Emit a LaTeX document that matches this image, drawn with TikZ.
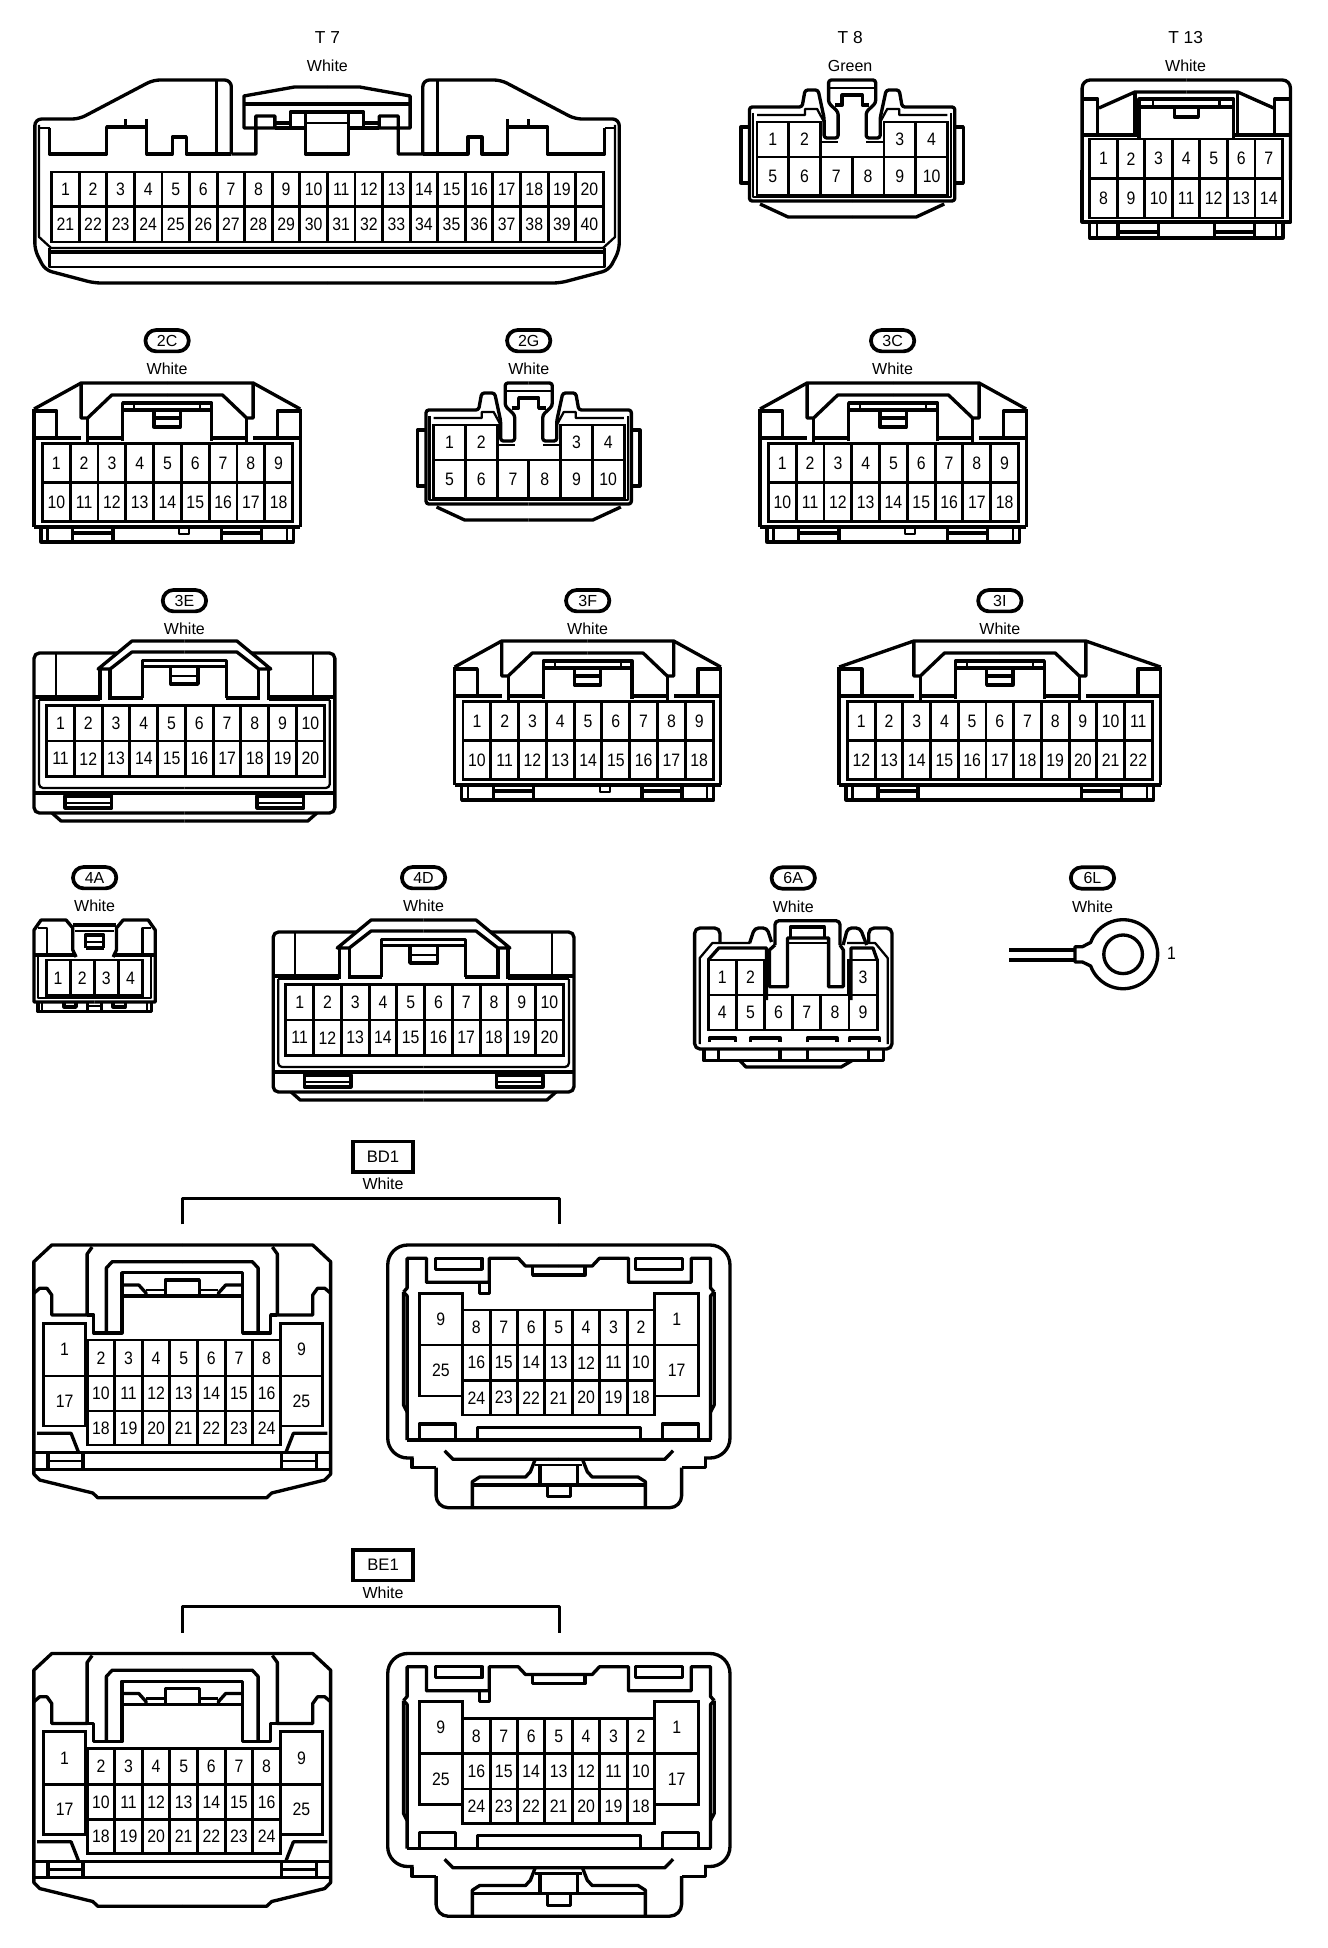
\documentclass[tikz,border=0pt]{standalone}
\usepackage{fontspec}
\setmainfont{Liberation Sans}
\newfontfamily\pinfont[FakeStretch=.88]{Liberation Sans}
\tikzset{
	hull/.style={line width=2.5pt,line join=round},
	lite/.style={line width=1.7pt,line join=round},
	pincell/.style={draw,line width=2.2pt,inner sep=0pt,outer sep=0pt,font=\pinfont\fontsize{13.5}{13.5}\selectfont},
	tint/.style={inner sep=0pt,font=\fontsize{12}{12}\selectfont},
	plaintag/.style={inner sep=0pt,font=\fontsize{13}{13}\selectfont},
	pilltag/.style={draw,line width=2.8pt,rounded corners=8pt,minimum width=32.5pt,minimum height=16pt,inner sep=0pt,font=\fontsize{12}{12}\selectfont},
	boxtag/.style={draw,line width=2.5pt,minimum width=45pt,minimum height=23pt,inner sep=0pt,font=\fontsize{12.5}{12.5}\selectfont},
}
\newcommand{\bothsides}[2]{#2\begin{scope}[shift={(#1,0)},xscale=-1]#2\end{scope}}
\newcommand{\pinrow}[6]{%
	\foreach \p [count=\i from 0] in {#6}{
		\node[pincell,minimum width=#4*.751pt,minimum height=#5*.75pt] (#1-\p) at ({#2+\i*#4+#4/2},{#3+#5/2}) {\p};
	}
}
\newcommand{\pilled}[5]{%
	\node[pilltag] (#1) at (#2,#3) {#4};
	\node[tint] (#1-tint) at ({#2},{#3+28.5}) {#5};
}
\newcommand{\clipplug}[1]{%
	\bothsides{1700}{
		\draw[hull,rounded corners=2pt] (850,201) -- (747.5,201) -- (747.5,107) -- (800,107) -- (803,90) -- (816,90) -- (822,118) -- (822,138) -- (836,138) -- (836,112) -- (826.5,103) -- (826.5,80) -- (850,80);
		\draw[hull] (758,204) -- (786,217) -- (850,217);
		\draw[hull] (747.5,127) -- (739,127) -- (739,183) -- (747.5,183);
		\draw[lite] (751,113) -- (751,197) -- (850,197);
		\draw[lite] (755,115) -- (803,115) -- (803,109) -- (815,109) -- (822,122);
		\draw[lite] (826.5,88) -- (850,88);
		\draw[hull] (833,105) -- (840,105) -- (840,95) -- (850,95);
		\draw[lite] (819,142) -- (836,142);
	}
	\pinrow{#1}{755}{122}{31.7}{35}{1,2}
	\pinrow{#1}{881.8}{122}{31.7}{35}{3,4}
	\pinrow{#1}{755}{157}{31.7}{38}{5,...,10}
}
\newcommand{\cside}{%
	\draw[hull] (33,409) -- (33,527);
	\draw[hull] (33,411) -- (55.7,411) -- (55.7,438);
	\draw[hull] (33,438) -- (80,438);
	\draw[hull] (33,527) -- (165.9,527);
	\draw[hull] (40,527) -- (40,542) -- (165.9,542);
	\draw[lite] (46.4,527) -- (46.4,542);
	\draw[hull] (71.7,527) -- (71.7,542);
	\draw[hull] (111.8,527) -- (111.8,542);
	\draw[hull] (71.7,533) -- (111.8,533);
}
\newcommand{\cbox}{%
	\draw[hull] (80,383) -- (80,418) -- (86.5,418) -- (110.6,395) -- (165.9,395);
	\draw[hull] (86.5,418) -- (86.5,443);
	\draw[hull] (86.5,438) -- (121.5,438);
	\draw[hull] (121.5,441) -- (121.5,403) -- (165.9,403);
	\draw[hull] (121.5,410) -- (165.9,410);
	\draw[lite] (133,403) -- (133,410);
	\draw[hull] (152.8,410) -- (152.8,427) -- (165.9,427);
	\draw[hull] (152.8,418) -- (165.9,418);
}
\newcommand{\nineplug}[1]{%
	\bothsides{331.8}{
		\cside\cbox
		\draw[hull] (165.9,383) -- (80,383) -- (33,409);
	}
	\draw[lite] (178,527) -- (178,534) -- (188,534) -- (188,527);
	\pinrow{#1}{41.4}{443.5}{27.75}{39}{1,...,9}
	\pinrow{#1}{41.4}{482.5}{27.75}{39}{10,...,18}
}
\newcommand{\tenplug}[1]{%
	\bothsides{366.4}{
		\draw[hull,rounded corners=4pt] (183.2,813) -- (33,813) -- (33,653) -- (116,653);
		\draw[hull] (183.2,641) -- (130.8,641) -- (97,669) -- (109,669) -- (130.8,652) -- (183.2,652);
		\draw[hull] (99,669) -- (99,700);
		\draw[hull] (109,669) -- (109,700);
		\draw[lite] (54.9,653) -- (54.9,697);
		\draw[hull] (33,697) -- (99,697);
		\draw[hull] (109,698) -- (141.4,698);
		\draw[lite] (38,700) -- (99,700);
		\draw[lite,rounded corners=3pt] (38,700) -- (38,788) -- (183.2,788);
		\draw[hull] (33,793) -- (183.2,793);
		\draw[hull] (51,813) -- (60,821) -- (183.2,821);
		\draw[hull] (141.4,698) -- (141.4,660.7) -- (183.2,660.7);
		\draw[hull] (141.4,666.7) -- (183.2,666.7);
		\draw[hull] (169.6,666.7) -- (169.6,684) -- (183.2,684);
		\draw[lite] (169.6,676) -- (183.2,676);
		\draw[hull] (64,796) rectangle (110.6,808);
		\draw[lite] (64,802.7) -- (110.6,802.7);
	}
	\pinrow{#1}{45.6}{705.5}{27.72}{35.5}{1,...,10}
	\pinrow{#1}{45.6}{741}{27.72}{35.5}{11,...,20}
}
\newcommand{\pairplug}[3]{%
	\node[boxtag] (#1) at (381.5,1156.7) {#2};
	\node[tint] (#1-tint) at (381.5,1184) {#3};
	\coordinate (#1-l) at (181,1224.3);
	\coordinate (#1-r) at (557.6,1224.3);
	\draw[hull] (#1-l) -- ++(0,-26) -| (#1-r);
	\bothsides{362}{
		\draw[hull] (181,1497.7) -- (96.6,1497.7) -- (91.7,1493) -- (38.6,1480) -- (32.8,1474) -- (32.8,1261.7) -- (50.7,1245) -- (181,1245);
		\draw[hull] (32.8,1293.3) -- (38.6,1288.3) -- (45.9,1288.3) -- (50.7,1295) -- (50.7,1315) -- (86,1315) -- (86,1254) -- (91,1247);
		\draw[hull] (86,1315) -- (92.7,1315) -- (92.7,1333) -- (120.7,1333) -- (120.7,1272.7) -- (181,1272.7);
		\draw[hull] (105.2,1333) -- (105.2,1268) -- (111,1261.7) -- (181,1261.7);
		\draw[hull] (120.7,1285) -- (137.6,1285) -- (144.8,1293) -- (144.8,1296);
		\draw[hull] (164,1296) -- (164,1280) -- (181,1280);
		\draw[hull] (120.7,1296) -- (181,1296);
		\draw[lite] (144.8,1290) -- (164,1290);
		\draw[hull] (36,1433.3) -- (70,1433.3) -- (77.2,1451.7);
		\draw[hull] (32.8,1452.7) -- (181,1452.7);
		\draw[hull] (32.8,1469.3) -- (181,1469.3);
		\draw[hull] (46.8,1452.7) -- (46.8,1469.3);
		\draw[hull] (82,1452.7) -- (82,1469.3);
		\draw[lite] (46.8,1461) -- (82,1461);
	}
	\pinrow{#1a}{42.5}{1323.3}{42}{52.7}{1}
	\pinrow{#1a}{42.5}{1376}{42}{50}{17}
	\pinrow{#1a}{279}{1323.3}{42}{52.7}{9}
	\pinrow{#1a}{279}{1376}{42}{50}{25}
	\pinrow{#1a}{86}{1340}{27.57}{36}{2,...,8}
	\pinrow{#1a}{86}{1376}{27.57}{35}{10,...,16}
	\pinrow{#1a}{86}{1411}{27.57}{34}{18,...,24}
	\bothsides{1114.2}{
		\draw[hull,rounded corners=15pt] (557.1,1245) -- (386.2,1245) -- (386.2,1458) -- (412,1458);
		\draw[hull] (410.4,1458) -- (410.4,1467.7) -- (434.5,1467.7);
		\draw[hull,rounded corners=9pt] (434.5,1467.7) -- (434.5,1507.7) -- (557.1,1507.7);
		\draw[hull] (405.6,1440) -- (405.6,1296) -- (402,1292);
		\draw[hull] (402,1292) -- (405.6,1288) -- (405.6,1258.3) -- (424.9,1258.3) -- (424.9,1282.3) -- (487.6,1282.3) -- (487.6,1258.3) -- (516.6,1258.3) -- (523.8,1266) -- (557.1,1266);
		\draw[hull] (405.6,1440) -- (557.1,1440);
		\draw[hull] (402,1292) -- (402,1405) -- (405.6,1412);
		\draw[hull] (531,1266) -- (531,1275) -- (557.1,1275);
		\draw[hull] (433.6,1258.3) rectangle (480.4,1269.3);
		\draw[hull] (417.6,1440) -- (417.6,1424) -- (453.8,1424) -- (453.8,1440);
		\draw[hull] (475.6,1440) -- (475.6,1427.3) -- (557.1,1427.3);
		\draw[hull] (443,1450.7) -- (451.4,1459.3) -- (557.1,1459.3);
		\draw[hull] (533.5,1459.3) -- (528.7,1471.7) -- (523.8,1477) -- (478,1477) -- (470.7,1481.7) -- (470.7,1507.7);
		\draw[hull] (470.7,1485) -- (557.1,1485);
		\draw[lite] (533.5,1465) -- (557.1,1465);
		\draw[hull] (538.3,1465) -- (538.3,1485);
		\draw[hull] (545.6,1485) -- (545.6,1496.7) -- (557.1,1496.7);
	}
	\draw[hull] (478,1282.3) -- (478,1293.3) -- (487.6,1293.3) -- (487.6,1282.3);
	\pinrow{#1b}{417.6}{1293.3}{43.4}{51.7}{9}
	\pinrow{#1b}{417.6}{1345}{43.4}{51}{25}
	\pinrow{#1b}{652.8}{1293.3}{43.9}{51.7}{1}
	\pinrow{#1b}{652.8}{1345}{43.9}{51}{17}
	\pinrow{#1b}{461}{1310}{27.4}{35}{8,7,6,5,4,3,2}
	\pinrow{#1b}{461}{1345}{27.4}{35.5}{16,15,14,13,12,11,10}
	\pinrow{#1b}{461}{1380.5}{27.4}{34.5}{24,23,22,21,20,19,18}
}
\begin{document}
\begin{tikzpicture}[x=.751pt,y=-.75pt]
	\useasboundingbox (-1,0) rectangle (1325.2,1948);

	% T 7
	\node[plaintag] (t7) at (326,38) {T 7};
	\node[tint] (t7-tint) at (326,65.5) {White};
	\bothsides{651.2}{
		\draw[hull,rounded corners=5pt] (325.6,283) -- (93,283) -- (44,270) -- (33.8,250) -- (33.8,119) -- (78,119) -- (152,80) -- (230,80) -- (230,154);
		\draw[hull] (230,154) -- (254.5,154) -- (254.5,116) -- (273.5,116) -- (273.5,128) -- (242.6,128) -- (242.6,96) -- (293,87) -- (325.6,87);
		\draw[hull] (242.6,104) -- (325.6,104);
		\draw[lite] (38,125) -- (38,237) -- (50,248) -- (325.6,248);
		\draw[lite] (38,128) -- (48.5,128);
		\draw[hull] (48.5,128) -- (48.5,154) -- (105.5,154) -- (105.5,127) -- (145.6,127);
		\draw[hull] (124.5,127) -- (124.5,119);
		\draw[hull] (145.6,119) -- (145.6,154) -- (171,154) -- (171,137) -- (185,137) -- (185,154) -- (230,154);
		\draw[hull] (215,80) -- (215,154);
		\draw[hull] (273.5,123) -- (289,123);
		\draw[hull] (273.5,128) -- (304,128);
		\draw[hull] (289,128) -- (289,112) -- (325.6,112);
		\draw[hull] (304,112) -- (304,154) -- (325.6,154);
		\draw[lite] (304,123) -- (325.6,123);
		\draw[hull] (48.5,252) -- (325.6,252);
		\draw[lite] (48.5,248) -- (48.5,267) -- (325.6,267);
	}
	\pinrow{t7}{50.6}{172}{27.54}{34.5}{1,...,20}
	\pinrow{t7}{50.6}{206.5}{27.54}{35.5}{21,...,40}

	% T 8
	\node[plaintag] (t8) at (848,38) {T 8};
	\node[tint] (t8-tint) at (848,65.5) {Green};
	\clipplug{t8}

	% T 13
	\node[plaintag] (t13) at (1183,38) {T 13};
	\node[tint] (t13-tint) at (1183,65.5) {White};
	\bothsides{2367.4}{
		\draw[hull,rounded corners=6pt] (1183.7,80) -- (1079.7,80) -- (1079.7,180);
		\draw[hull] (1079.7,170) -- (1079.7,222) -- (1183.7,222);
		\draw[hull] (1087.3,222) -- (1087.3,238) -- (1183.7,238);
		\draw[lite] (1094.4,222) -- (1094.4,238);
		\draw[hull] (1115.5,222) -- (1115.5,238);
		\draw[hull] (1155.6,222) -- (1155.6,238);
		\draw[hull] (1115.5,232) -- (1155.6,232);
		\draw[hull] (1079.7,99) -- (1095.3,99) -- (1095.3,135);
		\draw[hull] (1096.5,108) -- (1132.4,92) -- (1183.7,92);
		\draw[hull] (1132.4,92) -- (1132.4,135);
		\draw[hull] (1079.7,135) -- (1136.6,135);
		\draw[hull] (1136.6,138) -- (1136.6,99) -- (1183.7,99);
		\draw[hull] (1136.6,107) -- (1183.7,107);
		\draw[lite] (1150.6,99) -- (1150.6,107);
		\draw[hull] (1171.7,107) -- (1171.7,117) -- (1183.7,117);
	}
	\pinrow{t13}{1087.3}{139}{27.5}{39.5}{1,...,7}
	\pinrow{t13}{1087.3}{178.5}{27.5}{39.5}{8,...,14}

	% 2C, 2G, 3C
	\pilled{c2}{165.9}{340.7}{2C}{White}
	\nineplug{c2}
	\pilled{g2}{527}{340.7}{2G}{White}
	\begin{scope}[shift={(-323,303)}]
		\clipplug{g2}
	\end{scope}
	\pilled{c3}{890.4}{340.7}{3C}{White}
	\begin{scope}[shift={(725,0)}]
		\nineplug{c3}
	\end{scope}

	% 3E, 3F, 3I
	\pilled{e3}{183.2}{600.7}{3E}{White}
	\tenplug{e3}
	\pilled{f3}{585.9}{600.7}{3F}{White}
	\begin{scope}[shift={(420,258)}]
		\nineplug{f3}
	\end{scope}
	\pilled{i3}{997.5}{600.7}{3I}{White}
	\begin{scope}[shift={(804,258)}]
		\bothsides{387}{
			\cside
			\draw[hull] (165.9,527) -- (193.5,527);
			\draw[hull] (165.9,542) -- (193.5,542);
			\draw[hull] (80,438) -- (107.6,438);
			\draw[hull] (193.5,383) -- (107.6,383) -- (33,409);
		}
	\end{scope}
	\begin{scope}[shift={(831.6,258)}]
		\bothsides{331.8}{\cbox}
	\end{scope}
	\pinrow{i3}{845.4}{701.5}{27.65}{39}{1,...,11}
	\pinrow{i3}{845.4}{740.5}{27.65}{39}{12,...,22}

	% 4A
	\pilled{a4}{93.5}{877.7}{4A}{White}
	\bothsides{187}{
		\draw[hull] (93.5,1002) -- (33,1002) -- (33,930) -- (40,920) -- (65,920) -- (71.7,928) -- (71.7,950) -- (75,957);
		\draw[hull] (71.7,925) -- (93.5,925);
		\draw[lite] (74,931) -- (93.5,931);
		\draw[lite] (37,928) -- (45.6,928) -- (45.6,955);
		\draw[hull] (33,955) -- (75,955);
		\draw[lite] (37,957) -- (37,998) -- (93.5,998);
		\draw[hull] (84.4,948) -- (84.4,935) -- (93.5,935);
		\draw[hull] (84.4,948) -- (93.5,948);
		\draw[lite] (84.4,941.7) -- (93.5,941.7);
		\draw[hull] (37,1002) -- (37,1011.7) -- (93.5,1011.7);
		\draw[lite] (41,1002) -- (41,1011.7);
		\draw[hull] (63,1002) -- (63,1007) -- (75,1007) -- (75,1002);
		\draw[lite] (86.5,1006) -- (93.5,1006);
		\draw[hull] (86.5,1002) -- (86.5,1011.7);
	}
	\pinrow{a4}{45}{960}{24.1}{35.7}{1,...,4}

	% 4D
	\pilled{d4}{422}{877.7}{4D}{White}
	\begin{scope}[shift={(238.8,279)}]
		\tenplug{d4}
	\end{scope}

	% 6A
	\pilled{a6}{791.2}{878}{6A}{White}
	\draw[hull,rounded corners=4pt] (718,943) -- (718,928) -- (692.7,928) -- (692.7,1049) -- (889.8,1049) -- (889.8,928) -- (866.6,928) -- (866.6,943);
	\draw[lite] (697.8,1044) -- (697.8,958) -- (710.4,943) -- (748.4,943);
	\draw[lite] (885.5,1044) -- (885.5,958) -- (873,943) -- (845,943);
	\draw[hull] (706.2,960) -- (716.8,948) -- (764.4,948) -- (764.4,1000);
	\draw[hull] (848.8,1000) -- (848.8,948) -- (870.8,948) -- (875,960);
	\draw[hull,rounded corners=3pt] (747.6,943) -- (752.6,928) -- (765,928) -- (769.5,942);
	\draw[hull,rounded corners=3pt] (841,945) -- (845.5,928) -- (858,928) -- (864.5,945);
	\draw[hull,rounded corners=3pt] (772.9,945) -- (772.9,920.7) -- (837.9,920.7) -- (837.9,945);
	\draw[hull] (772.9,945) -- (767.4,950) -- (767.4,986.7) -- (785.5,986.7) -- (785.5,938) -- (826.5,938) -- (826.5,986.7) -- (841.2,986.7) -- (841.2,950) -- (837.9,945);
	\draw[hull] (788.5,938) -- (788.5,927) -- (822.3,927) -- (822.3,938);
	\draw[lite] (785.5,943) -- (826.5,943);
	\draw[hull] (702,1049) -- (702,1060.7) -- (881.3,1060.7) -- (881.3,1049);
	\foreach \slotx in {716.8,778,805.4,866.6}{
		\draw[hull] (\slotx,1049) -- (\slotx,1060.7);
	}
	\foreach \slotl/\slotr in {707.5/733.6,748.4/778,805.4/835,847.6/877}{
		\draw[hull] (\slotl,1042) -- (\slotl,1038) -- (\slotr,1038) -- (\slotr,1042);
	}
	\draw[hull] (738,1060.7) -- (744,1067) -- (839,1067) -- (849.7,1060.7);
	\pinrow{a6}{706.2}{960}{28.13}{35}{1,2}
	\pinrow{a6}{846.8}{960}{28.13}{35}{3}
	\pinrow{a6}{706.2}{995}{28.13}{35}{4,...,9}

	% 6L
	\pilled{l6}{1090}{878}{6L}{White}
	\coordinate (l6-wa) at (1006.7,950);
	\coordinate (l6-wb) at (1006.7,960);
	\coordinate (l6-ca) at (1072.5,950);
	\coordinate (l6-cb) at (1072.5,960);
	\draw[hull] (l6-wa) -- (l6-ca);
	\draw[hull] (l6-wb) -- (l6-cb);
	\draw[hull] (1080,946.7) -- (1072.5,946.7) -- (1072.5,962) -- (1080,962) -- (1088.2,966) arc[start angle=160,end angle=-160,radius=34.5] -- cycle;
	\draw[hull] (1120.6,954.3) circle[radius=19.3];
	\node[pincell,draw=none] (l6-1) at (1169,953) {1};

	% BD1, BE1
	\pairplug{bd}{BD1}{White}
	\begin{scope}[shift={(0,408.5)}]
		\pairplug{be}{BE1}{White}
	\end{scope}
\end{tikzpicture}
\end{document}
